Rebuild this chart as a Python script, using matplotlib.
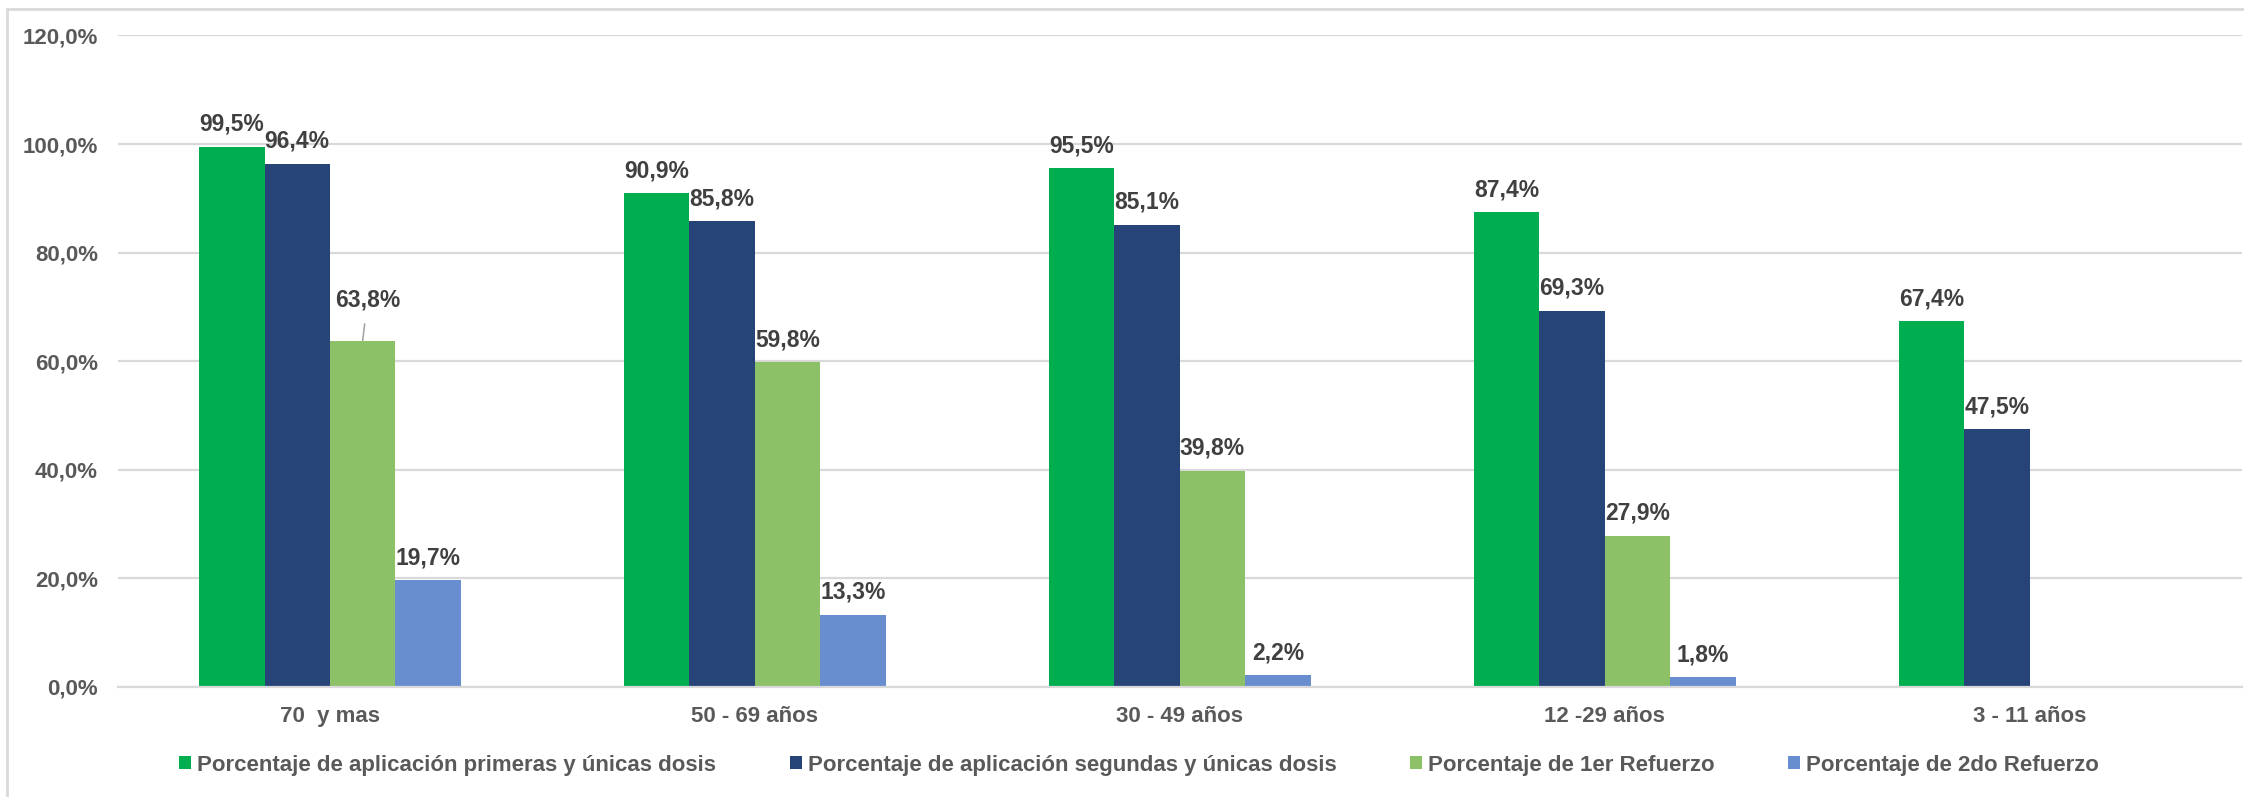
import matplotlib
matplotlib.use("Agg")
import matplotlib.pyplot as plt
from matplotlib.patches import Rectangle, Patch
import numpy as np

plt.rcParams['font.family'] = ['Liberation Sans', 'DejaVu Sans']

categories = ["70  y mas", "50 - 69 años", "30 - 49 años", "12 -29 años", "3 - 11 años"]
primeras = [99.5, 90.9, 95.5, 87.4, 67.4]
segundas = [96.4, 85.8, 85.1, 69.3, 47.5]
refuerzo1 = [63.8, 59.8, 39.8, 27.9, None]
refuerzo2 = [19.7, 13.3, 2.2, 1.8, None]
series_names = [
    "Porcentaje de aplicación primeras y únicas dosis",
    "Porcentaje de aplicación segundas y únicas dosis",
    "Porcentaje de 1er Refuerzo",
    "Porcentaje de 2do Refuerzo",
]
colors = ["#00AE50", "#264478", "#8CC168", "#698ED0"]
yticks = [0, 20, 40, 60, 80, 100, 120]

W, H = 2244, 797
fig = plt.figure(figsize=(W / 100, H / 100), dpi=100)
fig.patches.append(Rectangle((7 / W, -0.1), 1.2, 1 - 9 / H + 0.1, transform=fig.transFigure,
                             fill=False, edgecolor="#d9d9d9", linewidth=2.0, zorder=0))

ax = fig.add_axes([117.5 / W, 110 / H, 2124.5 / W, 651.6 / H])
ax.set_facecolor("none")

x = np.arange(len(categories))
bw = 0.154
all_series = [primeras, segundas, refuerzo1, refuerzo2]
for i, (vals, col) in enumerate(zip(all_series, colors)):
    xs = [xi + (i - 1.5) * bw for xi, v in zip(x, vals) if v is not None]
    vs = [v for v in vals if v is not None]
    ax.bar(xs, vs, width=bw, color=col, zorder=3, linewidth=0)
    for xx, v in zip(xs, vs):
        lab = f"{v:.1f}%".replace(".", ",")
        if i == 2 and v == 63.8:
            ax.annotate(lab, xy=(xx, v), xytext=(3.5, 24.5), textcoords="offset points",
                        ha="center", va="baseline", fontsize=16.5, fontweight="bold",
                        color="#404040", zorder=5,
                        arrowprops=dict(arrowstyle="-", color="#a6a6a6", lw=1.2,
                                        shrinkA=7, shrinkB=0))
        else:
            ax.annotate(lab, xy=(xx, v), xytext=(0, 11.5), textcoords="offset points",
                        ha="center", va="baseline", fontsize=16.5, fontweight="bold",
                        color="#404040", zorder=5)

ax.set_xlim(-0.5, len(categories) - 0.5)
ax.set_ylim(0, 120)
ax.set_yticks(yticks)
ax.set_yticklabels([f"{v:.1f}%".replace(".", ",") for v in yticks])
ax.set_xticks(x)
ax.set_xticklabels(categories)
ax.tick_params(axis="y", length=0, pad=14, labelsize=16, labelcolor="#595959")
ax.tick_params(axis="x", length=0, pad=14, labelsize=16, labelcolor="#595959")
for lab in ax.get_xticklabels() + ax.get_yticklabels():
    lab.set_fontweight("bold")
ax.grid(axis="y", color="#d9d9d9", linewidth=1.6, zorder=0)
for s in ["top", "right", "left"]:
    ax.spines[s].set_visible(False)
ax.spines["bottom"].set_color("#d9d9d9")
ax.spines["bottom"].set_linewidth(1.6)
ax.spines["bottom"].set_zorder(4)

handles = [Patch(facecolor=c, edgecolor="none") for c in colors]
leg = fig.legend(handles, series_names, loc="center", bbox_to_anchor=(1139 / W, 32 / H),
                 ncol=4, frameon=False, handlelength=0.54, handleheight=0.54,
                 handletextpad=0.27, columnspacing=3.3,
                 prop={"size": 16, "weight": "bold"}, labelcolor="#595959")

fig.savefig("out.png", dpi=100)
